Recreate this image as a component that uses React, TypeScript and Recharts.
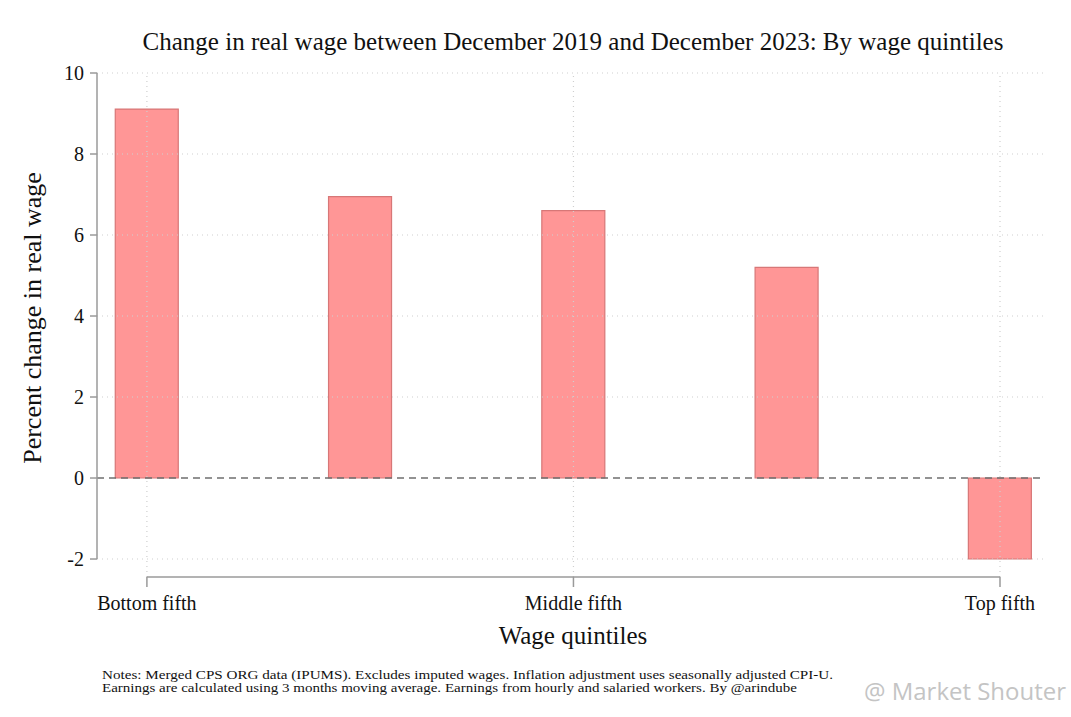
import React from "react";
import { Bar, BarChart, ReferenceLine, XAxis, YAxis } from "recharts";

// Stata-style bar chart: five wage quintiles, real wage change Dec 2019 → Dec 2023
const quintiles = [1, 2, 3, 4, 5];
const changes = [9.11, 6.95, 6.6, 5.2, -2.0];
const xTicks = [1, 3, 5];
const xTickLabels: Record<number, string> = {
  1: "Bottom fifth",
  3: "Middle fifth",
  5: "Top fifth",
};
const yTicks = [-2, 0, 2, 4, 6, 8, 10];

const BAR_FILL = "#FF9696";
const BAR_STROKE = "#D77777";
const AXIS = "#9a9a9a";
const GRID = "#cfcfcf";
const SERIF = "'Liberation Serif', 'Times New Roman', serif";

// x-axis sits a little below the lowest y tick, like Stata's offset axes
const Y_MIN = -2.444;
const X_DOMAIN: [number, number] = [0.766, 5.211];

const data = quintiles.map((q, i) => ({ q, change: changes[i] }));

export default function App() {
  return (
    <div style={{ position: "relative", width: 1071, height: 717, background: "#fff", fontFamily: SERIF }}>
      <style>{`body{margin:0}`}</style>
      <BarChart
        width={1071}
        height={717}
        data={data}
        margin={{ top: 73, right: 26, left: 37, bottom: 80 }}
      >
        <XAxis
          dataKey="q"
          type="number"
          domain={X_DOMAIN}
          ticks={xTicks}
          allowDataOverflow
          height={60}
          axisLine={false}
          tickLine={{ stroke: AXIS, strokeWidth: 1.5 }}
          tickSize={10}
          tickMargin={9}
          tick={{ fontSize: 20, fill: "#111", fontFamily: SERIF }}
          tickFormatter={(v: number) => xTickLabels[v] ?? ""}
        />
        <YAxis
          type="number"
          domain={[Y_MIN, 10]}
          ticks={yTicks}
          allowDataOverflow
          width={60}
          axisLine={false}
          tickLine={{ stroke: AXIS, strokeWidth: 1.5 }}
          tickSize={7}
          tickMargin={6}
          tick={{ fontSize: 20, fill: "#111", fontFamily: SERIF }}
        />
        {yTicks
          .filter((t) => t !== 0)
          .map((t) => (
            <ReferenceLine key={`h${t}`} y={t} stroke={GRID} strokeDasharray="1 4" strokeWidth={1.2} />
          ))}
        {xTicks.map((t) => (
          <ReferenceLine key={`v${t}`} x={t} stroke={GRID} strokeDasharray="1 4" strokeWidth={1.2} />
        ))}
        <Bar
          dataKey="change"
          fill={BAR_FILL}
          stroke={BAR_STROKE}
          strokeWidth={1.2}
          barSize={63}
          isAnimationActive={false}
        />
        <ReferenceLine y={0} stroke="#6f6f6f" strokeWidth={1.6} strokeDasharray="7 5" />
        <ReferenceLine
          segment={[{ x: X_DOMAIN[0], y: -2 }, { x: X_DOMAIN[0], y: 10 }]}
          stroke={AXIS}
          strokeWidth={1.5}
          ifOverflow="visible"
        />
        <ReferenceLine
          segment={[{ x: 1, y: Y_MIN }, { x: 5, y: Y_MIN }]}
          stroke={AXIS}
          strokeWidth={1.5}
          ifOverflow="visible"
        />
      </BarChart>

      <div
        style={{
          position: "absolute",
          left: 0,
          width: 1146,
          top: 27,
          textAlign: "center",
          fontSize: 25,
          color: "#111",
          lineHeight: "30px",
        }}
      >
        Change in real wage between December 2019 and December 2023: By wage quintiles
      </div>
      <div
        style={{
          position: "absolute",
          left: 33,
          top: 318,
          transform: "translate(-50%, -50%) rotate(-90deg)",
          whiteSpace: "nowrap",
          fontSize: 26,
          lineHeight: "30px",
          color: "#111",
        }}
      >
        Percent change in real wage
      </div>
      <div
        style={{
          position: "absolute",
          left: 0,
          width: 1146,
          top: 621,
          textAlign: "center",
          fontSize: 25,
          lineHeight: "30px",
          color: "#111",
        }}
      >
        Wage quintiles
      </div>

      <svg width={1071} height={60} style={{ position: "absolute", left: 0, top: 657 }}>
        <text x={102} y={22} fontSize={13} fill="#111" fontFamily={SERIF} textLength={731} lengthAdjust="spacingAndGlyphs">
          Notes: Merged CPS ORG data (IPUMS). Excludes imputed wages. Inflation adjustment uses seasonally adjusted CPI-U.
        </text>
        <text x={102} y={35} fontSize={13} fill="#111" fontFamily={SERIF} textLength={695} lengthAdjust="spacingAndGlyphs">
          Earnings are calculated using 3 months moving average. Earnings from hourly and salaried workers. By @arindube
        </text>
        <text x={864} y={43} fontSize={23} fill="#c4c4c4" fontFamily="'Open Sans', sans-serif" textLength={202} lengthAdjust="spacingAndGlyphs">
          @ Market Shouter
        </text>
      </svg>
    </div>
  );
}
